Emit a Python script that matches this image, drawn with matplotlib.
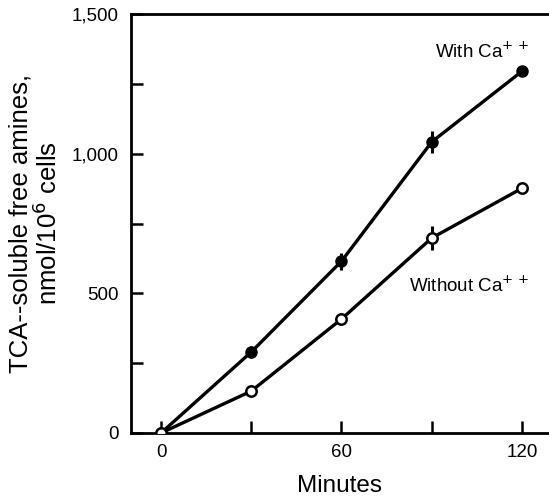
import matplotlib
matplotlib.use("Agg")
import matplotlib.pyplot as plt
from matplotlib.ticker import MultipleLocator, FuncFormatter

plt.rcParams['font.family'] = ['Liberation Sans', 'DejaVu Sans']

# Data
minutes = [0, 30, 60, 90, 120]
with_ca = [0, 290, 615, 1042, 1295]
with_ca_err = [0, 20, 30, 40, 0]
without_ca = [0, 150, 408, 698, 876]
without_ca_err = [0, 0, 0, 42, 0]

fig = plt.figure(figsize=(5.49, 4.99), dpi=100)
ax = fig.add_axes([0.2386, 0.1323, 0.7614, 0.8396])

# With Ca++ (filled)
ax.errorbar(minutes, with_ca, yerr=with_ca_err, color='black', lw=2.4,
            elinewidth=2.2, capsize=0, marker='o', ms=8, mfc='black',
            mec='black', zorder=3)
# Without Ca++ (open)
ax.errorbar(minutes, without_ca, yerr=without_ca_err, color='black', lw=2.4,
            elinewidth=2.2, capsize=0, marker='o', ms=7.5, mfc='white',
            mec='black', mew=1.8, zorder=4)

ax.set_xlim(-10, 129)
ax.set_ylim(0, 1500)

ax.xaxis.set_major_locator(MultipleLocator(60))
ax.xaxis.set_minor_locator(MultipleLocator(30))
ax.yaxis.set_major_locator(MultipleLocator(500))
ax.yaxis.set_minor_locator(MultipleLocator(250))
ax.yaxis.set_major_formatter(FuncFormatter(lambda v, p: f"{int(v):,}"))

ax.tick_params(which='both', direction='in', width=1.8, length=8.5,
               labelsize=13.5)
ax.tick_params(axis='x', which='both', top=False, pad=8)
ax.tick_params(axis='y', which='both', right=False, pad=9)

for s in ['left', 'bottom', 'top']:
    ax.spines[s].set_linewidth(2)
ax.spines['right'].set_visible(False)

ax.set_xlabel("Minutes", fontsize=17.5)
ax.xaxis.set_label_coords(0.5, -0.1)
ax.set_ylabel("TCA--soluble free amines,\nnmol/10$^6$ cells", fontsize=18.5,
              linespacing=1.05)
ax.yaxis.set_label_coords(-0.165, 0.5)

ax.text(91, 1343, "With Ca$^{+\\,+}$", fontsize=13.5, ha='left', va='baseline')
ax.text(82.5, 528, "Without Ca$^{+\\,+}$", fontsize=13.5, ha='left', va='center')

fig.savefig("out.png", dpi=100)
